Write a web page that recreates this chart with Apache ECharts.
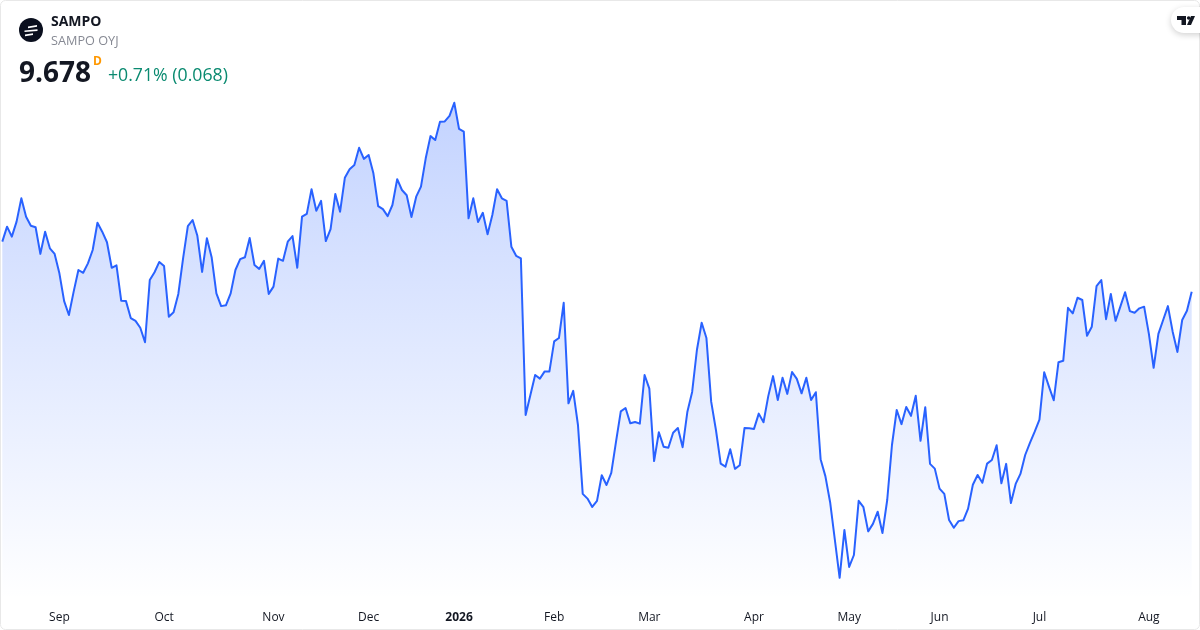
<!DOCTYPE html>
<html>
<head>
<meta charset="utf-8">
<style>
html,body{margin:0;padding:0;background:#fff;}
#chart{width:1200px;height:630px;}
</style>
<script src="https://cdn.jsdelivr.net/npm/echarts@6/dist/echarts.min.js"></script>
</head>
<body>
<div id="chart"></div>
<script>
const prices = [
9.858,9.912,9.876,9.930,10.014,9.948,9.915,9.910,9.814,9.894,
9.834,9.814,9.744,9.644,9.594,9.678,9.756,9.746,9.780,9.828,
9.926,9.894,9.856,9.764,9.773,9.645,9.644,9.583,9.573,9.548,
9.496,9.720,9.748,9.785,9.770,9.588,9.604,9.670,9.798,9.914,
9.936,9.879,9.749,9.870,9.802,9.672,9.626,9.629,9.672,9.756,
9.795,9.802,9.871,9.774,9.760,9.789,9.670,9.696,9.797,9.789,
9.858,9.878,9.764,9.948,9.958,10.047,9.969,10.005,9.860,9.903,
10.030,9.966,10.088,10.119,10.134,10.196,10.156,10.170,10.104,9.986,
9.975,9.950,9.990,10.083,10.044,10.025,9.947,10.020,10.056,10.158,
10.238,10.224,10.290,10.291,10.311,10.358,10.264,10.254,9.942,10.014,
9.929,9.962,9.885,9.954,10.047,10.014,10.005,9.840,9.807,9.798,
9.234,9.306,9.378,9.365,9.391,9.391,9.499,9.511,9.638,9.276,
9.321,9.198,8.950,8.933,8.903,8.925,9.017,8.982,9.026,9.138,
9.247,9.259,9.204,9.209,9.203,9.378,9.329,9.068,9.172,9.120,
9.116,9.170,9.187,9.118,9.246,9.317,9.468,9.566,9.511,9.282,
9.180,9.059,9.048,9.111,9.040,9.053,9.187,9.186,9.184,9.239,
9.208,9.302,9.374,9.288,9.368,9.310,9.389,9.364,9.312,9.368,
9.288,9.316,9.075,9.014,8.920,8.784,8.648,8.820,8.687,8.730,
8.925,8.902,8.815,8.842,8.886,8.809,8.928,9.126,9.252,9.201,
9.263,9.231,9.303,9.141,9.262,9.058,9.041,8.969,8.950,8.856,
8.828,8.852,8.855,8.897,8.983,9.018,8.990,9.059,9.072,9.125,
8.988,9.058,8.917,8.986,9.022,9.090,9.134,9.174,9.217,9.388,
9.336,9.287,9.424,9.429,9.620,9.600,9.656,9.648,9.519,9.552,
9.698,9.720,9.579,9.670,9.573,9.624,9.676,9.608,9.602,9.618,
9.624,9.526,9.404,9.526,9.576,9.626,9.534,9.461,9.576,9.609,
9.678];
const tickLabels = ["Sep","Oct","Nov","Dec","2026","Feb","Mar","Apr","May","Jun","Jul","Aug"];
const tickPositions = [12,34,57,77,96,116,136,158,178,197,218,241];
const symbol = "SAMPO";
const company = "SAMPO OYJ";
const lastPrice = "9.678";
const interval = "D";
const change = "+0.71% (0.068)";

const FONT = '"Open Sans","Noto Sans",sans-serif';
const categories = prices.map((_, i) => {
  const k = tickPositions.indexOf(i);
  return k >= 0 ? tickLabels[k] : String(i);
});

const chart = echarts.init(document.getElementById('chart'), null, {renderer:'canvas'});
chart.setOption({
  animation:false,
  backgroundColor:'#ffffff',
  grid:{left:2.3,right:8.3,top:0,height:600,containLabel:false},
  xAxis:{
    type:'category',
    boundaryGap:false,
    data:categories,
    axisLine:{show:false},
    axisTick:{show:false},
    splitLine:{show:false},
    axisLabel:{
      interval:(i)=>tickPositions.indexOf(i)>=0,
      hideOverlap:false,
      margin:12,
      fontFamily:FONT,
      fontSize:12,
      color:'#131722',
      formatter:(v)=>v==='2026'?'{b|2026}':v,
      rich:{b:{fontFamily:FONT,fontSize:12,fontWeight:'bold',color:'#131722'}}
    }
  },
  yAxis:{
    type:'value',
    min:8.568,
    max:10.728,
    show:false
  },
  series:[{
    type:'line',
    data:prices,
    symbol:'none',
    smooth:false,
    lineStyle:{color:'#2962ff',width:2,join:'round'},
    areaStyle:{
      origin:'start',
      opacity:1,
      color:new echarts.graphic.LinearGradient(0,0,0,1,[
        {offset:0,color:'rgba(41,98,255,0.28)'},
        {offset:1,color:'rgba(41,98,255,0)'}
      ])
    }
  }],
  graphic:[
    {type:'rect',silent:true,z:100,shape:{x:0.5,y:0.5,width:1199,height:629,r:5},
      style:{fill:'none',stroke:'#e8e8e8',lineWidth:1}},
    {type:'circle',z:101,shape:{cx:31,cy:30,r:12},style:{fill:'#0a0f1e'}},
    {type:'polygon',z:102,shape:{points:[[28,26.4],[37,25],[37,26.8],[28,28.2]]},style:{fill:'#ffffff'}},
    {type:'polygon',z:102,shape:{points:[[24.5,30.4],[37.5,29.2],[37.5,30.9],[24.5,32.1]]},style:{fill:'#ffffff'}},
    {type:'polygon',z:102,shape:{points:[[25,34.5],[33,33.2],[33,35],[25,36.2]]},style:{fill:'#ffffff'}},
    {type:'text',z:101,style:{x:51,y:22,text:symbol,font:'bold 14px '+FONT,fill:'#131722',verticalAlign:'middle'}},
    {type:'text',z:101,style:{x:51,y:41,text:company,font:'12.7px '+FONT,fill:'#868993',verticalAlign:'middle'}},
    {type:'text',z:101,style:{x:19,y:74,text:lastPrice,font:'bold 28px '+FONT,fill:'#131722',verticalAlign:'middle'}},
    {type:'text',z:101,style:{x:93,y:62,text:interval,font:'bold 12px '+FONT,fill:'#ff9800',verticalAlign:'middle'}},
    {type:'text',z:101,style:{x:108,y:76,text:change,font:'17.7px '+FONT,fill:'#0a8a70',verticalAlign:'middle'}},
    {type:'rect',z:101,shape:{x:1171,y:7,width:60,height:26,r:13},
      style:{fill:'#ffffff',shadowBlur:6,shadowColor:'rgba(0,0,0,0.18)',shadowOffsetY:2}},
    {type:'polygon',z:102,shape:{points:[[1177,16],[1186,16],[1186,25],[1181.5,25],[1181.5,20],[1177,20]]},style:{fill:'#131722'}},
    {type:'polygon',z:102,shape:{points:[[1195,16],[1191,25],[1187,25],[1191,16]]},style:{fill:'#131722'}},
    {type:'circle',z:103,shape:{cx:1188.7,cy:18,r:1.8},style:{fill:'#131722'}}
  ]
});
</script>
</body>
</html>
